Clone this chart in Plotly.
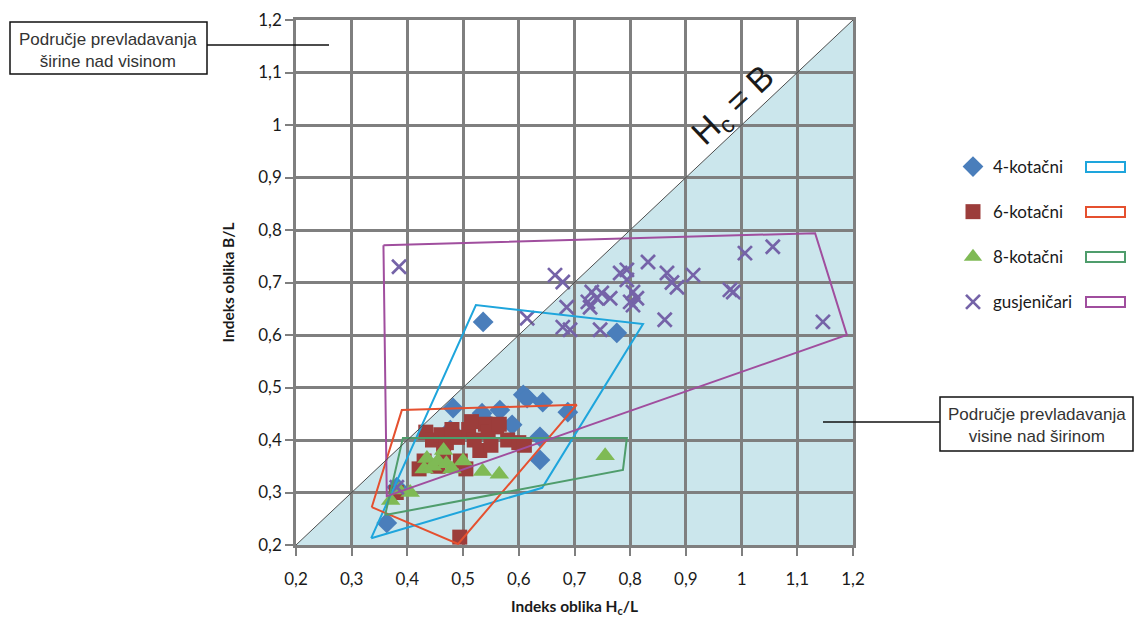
import plotly.graph_objects as go

# --- data -----------------------------------------------------------------
# 4-kotačni (wheeled, 4 axles)
kot4_x = [0.363, 0.536, 0.776, 0.482, 0.477, 0.537, 0.534, 0.566, 0.608, 0.615,
          0.643, 0.688, 0.588, 0.638, 0.638, 0.381]
kot4_y = [0.242, 0.625, 0.604, 0.461, 0.419, 0.440, 0.451, 0.457, 0.486, 0.480,
          0.472, 0.453, 0.429, 0.406, 0.362, 0.310]

# 6-kotačni
kot6_x = [0.380, 0.421, 0.430, 0.433, 0.445, 0.460, 0.465, 0.470, 0.480, 0.490,
          0.495, 0.505, 0.510, 0.520, 0.530, 0.540, 0.545, 0.550, 0.560, 0.565,
          0.580, 0.600, 0.610, 0.494, 0.455, 0.515]
kot6_y = [0.300, 0.345, 0.360, 0.415, 0.400, 0.410, 0.375, 0.395, 0.420, 0.405,
          0.360, 0.345, 0.420, 0.400, 0.380, 0.430, 0.415, 0.390, 0.425, 0.430,
          0.400, 0.395, 0.390, 0.215, 0.350, 0.435]

# 8-kotačni
kot8_x = [0.370, 0.385, 0.405, 0.430, 0.435, 0.445, 0.455, 0.465, 0.470, 0.480,
          0.500, 0.535, 0.565, 0.755]
kot8_y = [0.285, 0.305, 0.300, 0.345, 0.365, 0.350, 0.360, 0.380, 0.355, 0.345,
          0.360, 0.340, 0.335, 0.370]

# gusjeničari (tracked)
gus_x = [0.385, 0.381, 0.615, 0.665, 0.679, 0.686, 0.679, 0.692, 0.731, 0.724,
         0.740, 0.749, 0.764, 0.728, 0.782, 0.794, 0.794, 0.805, 0.812, 0.800,
         0.805, 0.832, 0.866, 0.884, 0.875, 0.913, 0.862, 0.746, 0.979, 0.985,
         1.006, 1.056, 1.146]
gus_y = [0.730, 0.310, 0.632, 0.714, 0.701, 0.653, 0.615, 0.610, 0.682, 0.663,
         0.670, 0.680, 0.670, 0.653, 0.718, 0.724, 0.705, 0.682, 0.670, 0.663,
         0.657, 0.739, 0.718, 0.691, 0.700, 0.714, 0.629, 0.610, 0.686, 0.682,
         0.756, 0.768, 0.625]

# envelope polygons of each group
poly4_x = [0.335, 0.523, 0.823, 0.642, 0.335]
poly4_y = [0.213, 0.657, 0.621, 0.309, 0.213]
poly6_x = [0.336, 0.390, 0.704, 0.491, 0.336]
poly6_y = [0.272, 0.457, 0.467, 0.202, 0.272]
poly8_x = [0.360, 0.392, 0.794, 0.787, 0.360]
poly8_y = [0.257, 0.404, 0.404, 0.343, 0.257]
polyg_x = [0.357, 1.132, 1.189, 0.363, 0.357]
polyg_y = [0.771, 0.794, 0.600, 0.293, 0.771]

# axes
tick_vals = [0.2, 0.3, 0.4, 0.5, 0.6, 0.7, 0.8, 0.9, 1.0, 1.1, 1.2]
tick_text = ["0,2", "0,3", "0,4", "0,5", "0,6", "0,7", "0,8", "0,9", "1", "1,1", "1,2"]
axis_min, axis_max = 0.2, 1.2

names = ["4-kotačni", "6-kotačni", "8-kotačni", "gusjeničari"]
marker_colors = ["#4a7ebb", "#9c3d3b", "#7fba55", "#7563a8"]
outline_colors = ["#1ea5dc", "#e5502f", "#4f9d6c", "#a04e9e"]

FONT = "Lato"
TXT_FONT = "Liberation Sans"

fig = go.Figure()

# series
series = [
    (kot4_x, kot4_y, dict(symbol="diamond", size=16, color=marker_colors[0])),
    (kot6_x, kot6_y, dict(symbol="square", size=15, color=marker_colors[1])),
    (kot8_x, kot8_y, dict(symbol="triangle-up", size=17, color=marker_colors[2])),
    (gus_x, gus_y, dict(symbol="x-thin", size=14, color=marker_colors[3],
                        line=dict(width=2.7, color=marker_colors[3]))),
]
for i, (xs, ys, mk) in enumerate(series):
    fig.add_trace(go.Scatter(x=xs, y=ys, mode="markers", name=names[i],
                             marker=mk, legendgroup=names[i], cliponaxis=False))

# envelopes
polys = [(poly4_x, poly4_y), (poly6_x, poly6_y), (poly8_x, poly8_y), (polyg_x, polyg_y)]
for i, (px, py) in enumerate(polys):
    fig.add_trace(go.Scatter(x=px, y=py, mode="lines", showlegend=False,
                             line=dict(color=outline_colors[i], width=2),
                             hoverinfo="skip"))

# Hc = B diagonal
fig.add_trace(go.Scatter(x=[axis_min, axis_max], y=[axis_min, axis_max], mode="lines",
                         line=dict(color="#4d4d4d", width=1), showlegend=False,
                         hoverinfo="skip"))

# shaded region below the diagonal (under the grid)
fig.add_shape(type="path", xref="x", yref="y", layer="below",
              path=f"M {axis_min} {axis_min} L {axis_max} {axis_max} L {axis_max} {axis_min} Z",
              fillcolor="#cbe6ec", line=dict(width=0))

fig.add_annotation(x=0.986, y=1.036, xref="x", yref="y", text="H<sub>c</sub> = B",
                   showarrow=False, textangle=-43.3,
                   font=dict(family=TXT_FONT, size=34, color="#1a1a1a"))

# region labels with leader lines
def px2paper_x(p):
    return (p - 296) / 557.0

def px2paper_y(p):
    return (545 - p) / 525.0

fig.add_shape(type="rect", xref="paper", yref="paper",
              x0=px2paper_x(10), x1=px2paper_x(207), y0=px2paper_y(74), y1=px2paper_y(22),
              line=dict(color="#111111", width=1.5), fillcolor="white")
fig.add_shape(type="line", xref="paper", yref="paper",
              x0=px2paper_x(207), x1=px2paper_x(329), y0=px2paper_y(45), y1=px2paper_y(45),
              line=dict(color="#111111", width=1.5))
fig.add_annotation(xref="paper", yref="paper", x=px2paper_x(108.5), y=px2paper_y(50),
                   xanchor="center", yanchor="middle",
                   text="Područje prevladavanja<br>širine nad visinom", showarrow=False,
                   font=dict(family=TXT_FONT, size=17, color="#333333"))

fig.add_shape(type="rect", xref="paper", yref="paper",
              x0=px2paper_x(940), x1=px2paper_x(1133), y0=px2paper_y(451), y1=px2paper_y(397),
              line=dict(color="#111111", width=1.5), fillcolor="white")
fig.add_shape(type="line", xref="paper", yref="paper",
              x0=px2paper_x(823), x1=px2paper_x(940), y0=px2paper_y(422), y1=px2paper_y(422),
              line=dict(color="#111111", width=1.5))
fig.add_annotation(xref="paper", yref="paper", x=px2paper_x(1036.5), y=px2paper_y(425),
                   xanchor="center", yanchor="middle",
                   text="Područje prevladavanja<br>visine nad širinom", showarrow=False,
                   font=dict(family=TXT_FONT, size=17, color="#333333"))

# outline swatches next to the legend entries
legend_rows = [167, 212, 257, 302]
for i, row in enumerate(legend_rows):
    fig.add_shape(type="rect", xref="paper", yref="paper",
                  x0=px2paper_x(1086), x1=px2paper_x(1125),
                  y0=px2paper_y(row + 5), y1=px2paper_y(row - 5),
                  line=dict(color=outline_colors[i], width=2), fillcolor="white")

axis_common = dict(
    range=[axis_min, axis_max], tickvals=tick_vals, ticktext=tick_text,
    showgrid=True, gridcolor="#7f7f7f", gridwidth=2.5,
    showline=True, linecolor="#7f7f7f", linewidth=2.5, mirror=True,
    ticks="outside", ticklen=8, tickwidth=2, tickcolor="#7f7f7f",
    zeroline=False, automargin=False,
    tickfont=dict(family=FONT, size=17, color="#1a1a1a"),
)

fig.update_layout(
    width=1136, height=617,
    margin=dict(l=296, r=283, t=20, b=72),
    paper_bgcolor="white", plot_bgcolor="white",
    xaxis=dict(**axis_common, ticklabelstandoff=9,
               title=dict(text="<b>Indeks oblika H<sub>c</sub>/L</b>", standoff=15,
                          font=dict(family=FONT, size=15.5, color="#1a1a1a"))),
    yaxis=dict(**axis_common,
               title=dict(text="<b>Indeks oblika B/L</b>", standoff=20,
                          font=dict(family=FONT, size=15.5, color="#1a1a1a"))),
    legend=dict(x=px2paper_x(953), y=px2paper_y(149), xanchor="left", yanchor="top",
                font=dict(family=FONT, size=17, color="#1a1a1a"),
                traceorder="grouped", tracegroupgap=20, bgcolor="rgba(0,0,0,0)"),
    showlegend=True,
)

fig.write_html("out.html")
